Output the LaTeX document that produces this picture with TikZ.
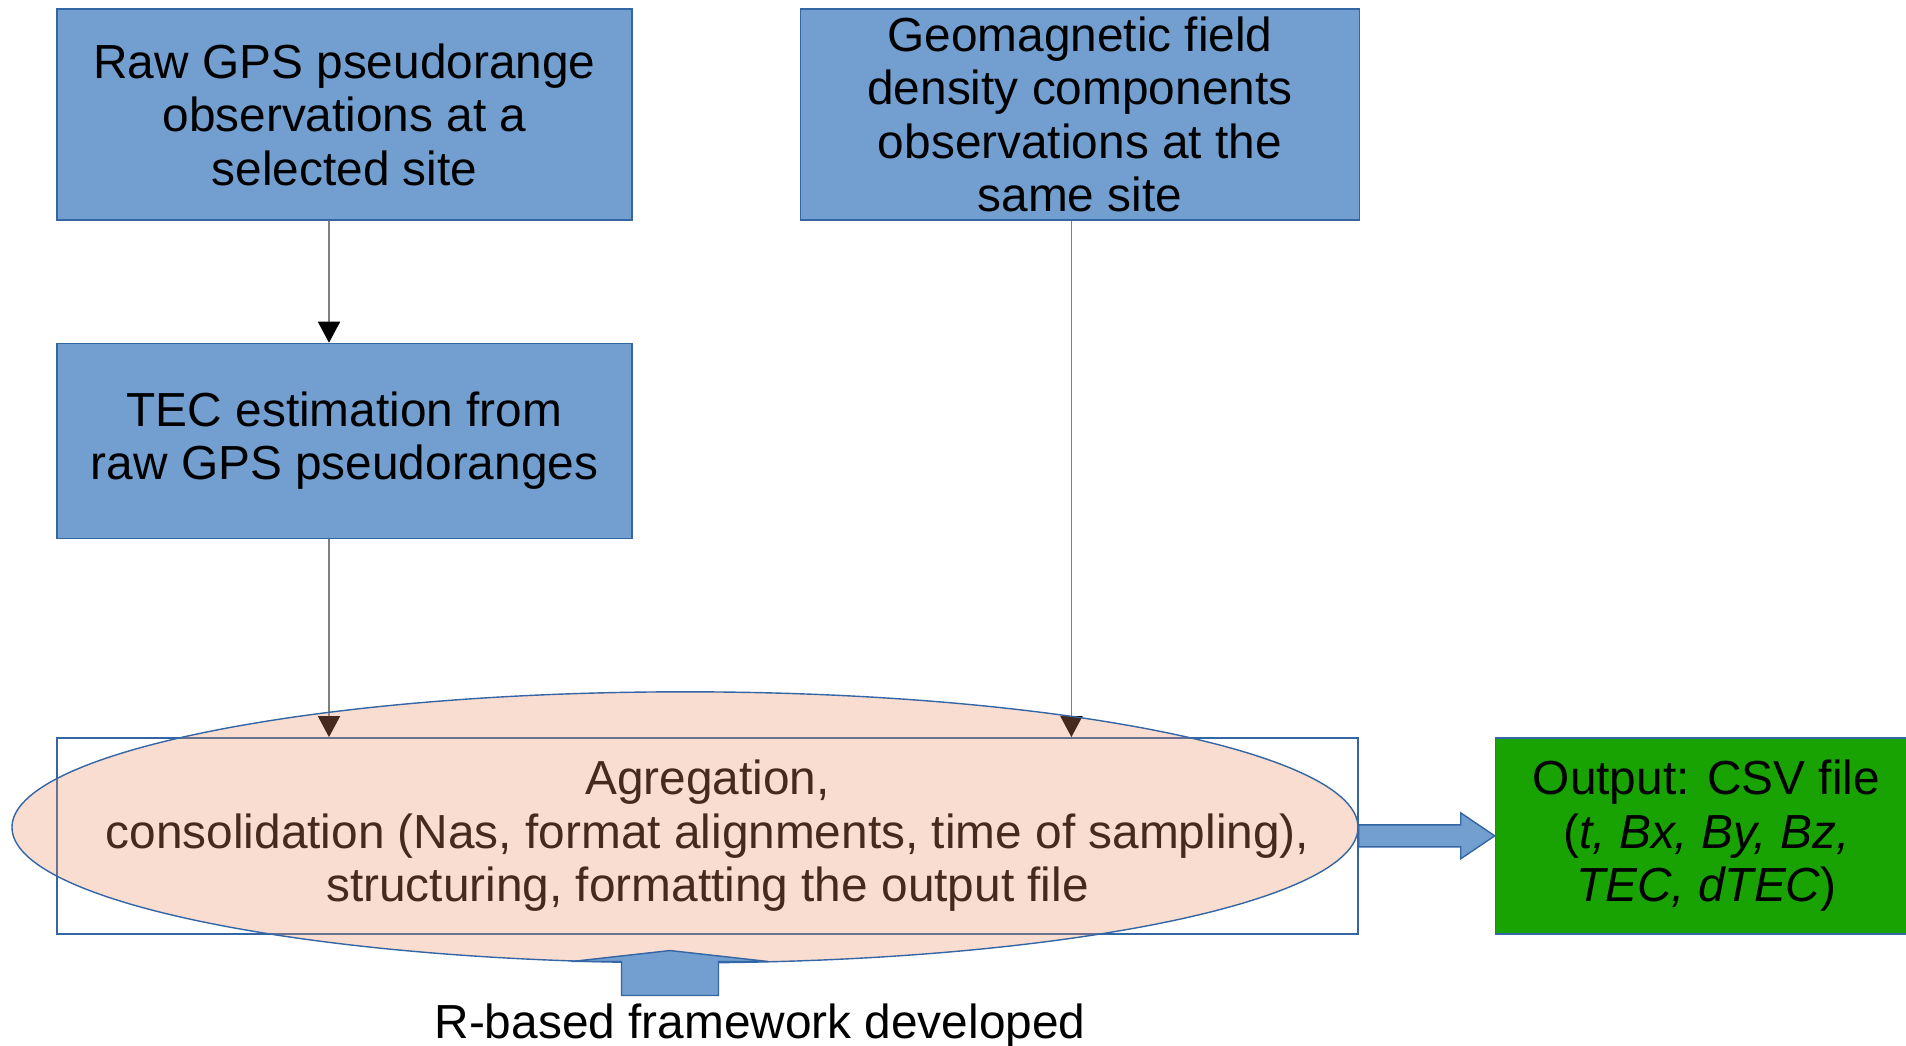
\documentclass[tikz,border=0pt]{standalone}
\usepackage{fontspec}
\setmainfont{Liberation Sans}
\usetikzlibrary{shapes.geometric, arrows.meta, positioning, calc}
\definecolor{boxblue}{HTML}{729FCF}
\definecolor{boxedge}{HTML}{3465A4}
\definecolor{outgreen}{HTML}{18A303}
\definecolor{salmon}{RGB}{237,142,102}
\definecolor{linkgray}{HTML}{808080}
\tikzstyle{link} = [line width=0.45pt, draw=linkgray,
    -{Triangle[length=2.1mm, width=2.2mm, color=black]}]

\begin{document}
\begin{tikzpicture}[x=1mm, y=1mm,
    txt/.style={font=\fontsize{13.6pt}{15.2pt}\selectfont, align=center},
    box/.style={txt, rectangle, draw=boxedge, fill=boxblue, line width=0.4pt,
                inner sep=0pt, minimum width=57.5mm, minimum height=21.1mm},
    frame/.style={txt, rectangle, draw=boxedge, line width=0.4pt,
                  inner sep=0pt, minimum height=19.6mm},
    blockarrow/.style={fill=boxblue, draw=boxedge, line width=0.4pt}
]

\useasboundingbox (0,0) rectangle (190.6,-104.5);

% --- input boxes ---
\node[box] (raw) at (34.45,-11.45)
    {Raw GPS pseudorange\\observations at a\\selected site};
\node[box, minimum width=55.9mm, right=16.7mm of raw] (geo)
    {Geomagnetic field\\density components\\observations at the\\same site};
\node[box, minimum height=19.5mm, below=12.2mm of raw] (tec)
    {TEC estimation from\\raw GPS pseudoranges};

% --- aggregation and output ---
\node[frame, minimum width=130.1mm, below=19.8mm of tec.south west,
      anchor=north west] (agg)
    {Agregation,\\consolidation (Nas, format alignments, time of sampling),\\structuring, formatting the output file};
\node[frame, fill=outgreen, minimum width=42.2mm, right=13.6mm of agg] (out)
    {Output: CSV file\\(\textit{t, Bx, By, Bz,}\\\textit{TEC, dTEC})};

% --- connectors ---
\draw[link] ([xshift=-1.55mm]raw.south) -- ([xshift=-1.55mm]tec.north);
\draw[link] ([xshift=-1.55mm]tec.south) -- ([xshift=-1.55mm]tec.south |- agg.north);
\draw[link] ([xshift=-0.85mm]geo.south) -- ([xshift=-0.85mm]geo.south |- agg.north);

% --- translucent ellipse over the frame ---
\node[ellipse, draw=boxedge, line width=0.4pt, fill=salmon, fill opacity=0.3,
      minimum width=134.6mm, minimum height=27.1mm, inner sep=0pt]
    (cloud) at ([xshift=-2.25mm, yshift=0.85mm]agg.center) {};

% --- block arrows ---
\draw[blockarrow] ($(agg.east)+(0,1.1)$) -- ($(out.west)+(-3.4,1.1)$)
    -- ($(out.west)+(-3.4,2.3)$) -- (out.west) -- ($(out.west)+(-3.4,-2.3)$)
    -- ($(out.west)+(-3.4,-1.1)$) -- ($(agg.east)+(0,-1.1)$) -- cycle;

\node[txt, anchor=base] (fw) at (76.0,-103.8) {R-based framework developed};
\coordinate (uptip) at ([xshift=-1.5mm, yshift=1.3mm]cloud.south);
\draw[blockarrow] (uptip) -- ++(9.85,-1.1) -- ++(-5.0,0) -- ++(0,-3.4)
    -- ++(-9.7,0) -- ++(0,3.4) -- ++(-5.0,0) -- cycle;

\end{tikzpicture}
\end{document}
